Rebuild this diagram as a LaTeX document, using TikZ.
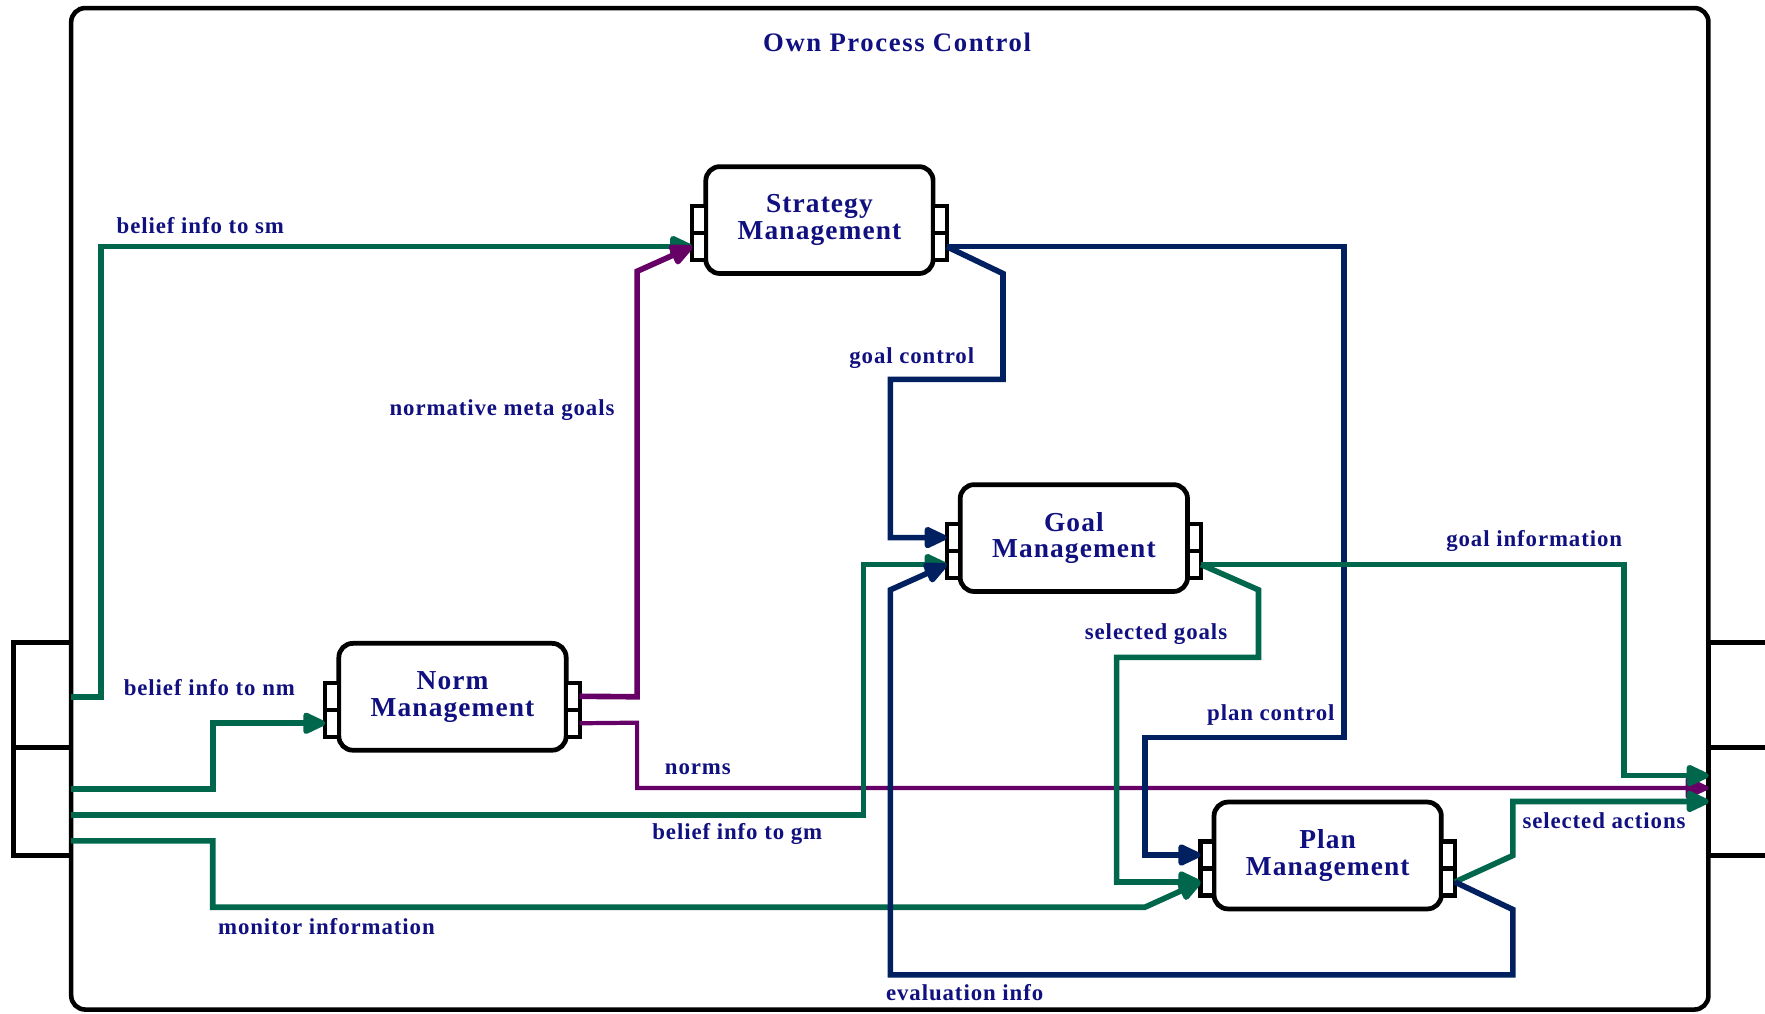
\documentclass[tikz,border=0pt]{standalone}
\usepackage{fontspec}
\setmainfont{Liberation Serif}[LetterSpace=4]
\newfontfamily\titlefont{Liberation Serif}[LetterSpace=6]
\usetikzlibrary{arrows.meta}

\definecolor{txtblue}{RGB}{16,16,128}
\definecolor{navyline}{RGB}{0,32,96}
\definecolor{greenline}{RGB}{0,102,76}
\definecolor{purpleline}{RGB}{102,0,102}

\tikzset{
  mgmt/.style={draw, line width=1.35pt, rounded corners=0.14cm, fill=white,
    minimum width=2.274cm, minimum height=1.069cm, inner sep=0pt, outer sep=0pt,
    align=center, text=txtblue, font=\bfseries\fontsize{7.8}{7.6}\selectfont},
  stub/.style={draw, line width=1.2pt, fill=white, inner sep=0pt, outer sep=0pt,
    minimum width=0.135cm, minimum height=0.27cm},
  port/.style={draw, line width=1.3pt, inner sep=0pt, outer sep=0pt, minimum width=0.574cm},
  conn/.style={->, line width=1.6pt},
  lbl/.style={text=txtblue, inner sep=0pt, font=\bfseries\fontsize{6.5}{7}\selectfont},
}

\begin{document}
\begin{tikzpicture}[x=0.011257cm, y=-0.011257cm, >={Triangle[length=7.5pt,width=6.5pt,round]}]
    \clip (0,0) rectangle (1568,900);

    % outer component with its in/out ports
    \node[draw, line width=1.3pt, rounded corners=0.14cm, minimum width=16.379cm,
          minimum height=10.019cm, inner sep=0pt] (frame) at (790.5,452) {};
    \node[text=txtblue, inner sep=0pt, font=\titlefont\bfseries\fontsize{7.6}{9}\selectfont]
        (title) at (797,38) {Own Process Control};

    \node[port, minimum height=1.047cm] (lpa) at (37.5,617.5) {};
    \node[port, minimum height=1.081cm, anchor=north] (lpb) at (lpa.south) {};
    \node[port, minimum width=0.8cm, minimum height=1.047cm, anchor=west] (rpa) at (1518,617.5) {};
    \node[port, minimum width=0.8cm, minimum height=1.081cm, anchor=north west] (rpb) at (rpa.south west) {};

    \coordinate (lp1) at (63,619);
    \coordinate (lp2) at (63,701);
    \coordinate (lp3) at (63,724);
    \coordinate (lp4) at (63,747);
    \coordinate (rp1) at (1518,689);
    \coordinate (rp2) at (1518,700);
    \coordinate (rp3) at (1518,712);

    \node[mgmt] (sm) at (728,195.5) {Strategy\\Management};
    \node[mgmt] (nm) at (402,619) {Norm\\Management};
    \node[mgmt] (gm) at (954,478) {Goal\\Management};
    \node[mgmt] (pm) at (1179.5,760) {Plan\\Management};

    \foreach \m in {sm,nm,gm,pm} {
        \node[stub, anchor=north east] (\m-l1) at ([yshift=0.14cm]\m.west) {};
        \node[stub, anchor=north] (\m-l2) at (\m-l1.south) {};
        \node[stub, anchor=north west] (\m-r1) at ([yshift=0.14cm]\m.east) {};
        \node[stub, anchor=north] (\m-r2) at (\m-r1.south) {};
    }

    \draw[conn, greenline] (lp1) -- (90,619) |- (sm-l2.west);
    \draw[conn, purpleline] (nm-r1.east) -- (566,619) -- (566,241) -- (sm-l2.west);
    \draw[conn, greenline] (lp2) -- (189,701) |- (nm-l2.west);
    \draw[conn, purpleline, line width=1.2pt] (nm-r2.east) -- (566,642) |- (rp2);
    \draw[conn, greenline] (lp3) -- (767,724) |- (gm-l2.west);
    \draw[conn, greenline] (lp4) -| (189,806) -- (1017,806) -- (pm-l2.west);
    \draw[conn, navyline] (sm-r2.east) -- (891,243) |- (791,337) |- (gm-l1.west);
    \draw[conn, navyline] (sm-r2.east) -| (1194,655) -- (1017,655) |- (pm-l1.west);
    \draw[conn, greenline] (gm-r2.east) -| (1443,689) -- (rp1);
    \draw[conn, greenline] (gm-r2.east) -- (1118,524) |- (992,584) |- (pm-l2.west);
    \draw[conn, greenline] (pm-r2.east) -- (1344,760) |- (rp3);
    \draw[conn, navyline] (pm-r2.east) -- (1344,808) |- (791,866) -- (791,524) -- (gm-l2.west);

    \node[lbl] (lbsm) at (178,200) {belief info to sm};
    \node[lbl] (lnmg) at (446,364) {normative meta goals};
    \node[lbl] (lbnm) at (186,611) {belief info to nm};
    \node[lbl] (lnorms) at (620,683) {norms};
    \node[lbl] (lbgm) at (655,741) {belief info to gm};
    \node[lbl] (lmon) at (290,823) {monitor information};
    \node[lbl] (lgc) at (810,318) {goal control};
    \node[lbl] (lpc) at (1129,635) {plan control};
    \node[lbl] (lgi) at (1363,481) {goal information};
    \node[lbl] (lsg) at (1027,563) {selected goals};
    \node[lbl] (lsa) at (1425,729) {selected actions};
    \node[lbl] (lev) at (857,882) {evaluation info};
\end{tikzpicture}
\end{document}
